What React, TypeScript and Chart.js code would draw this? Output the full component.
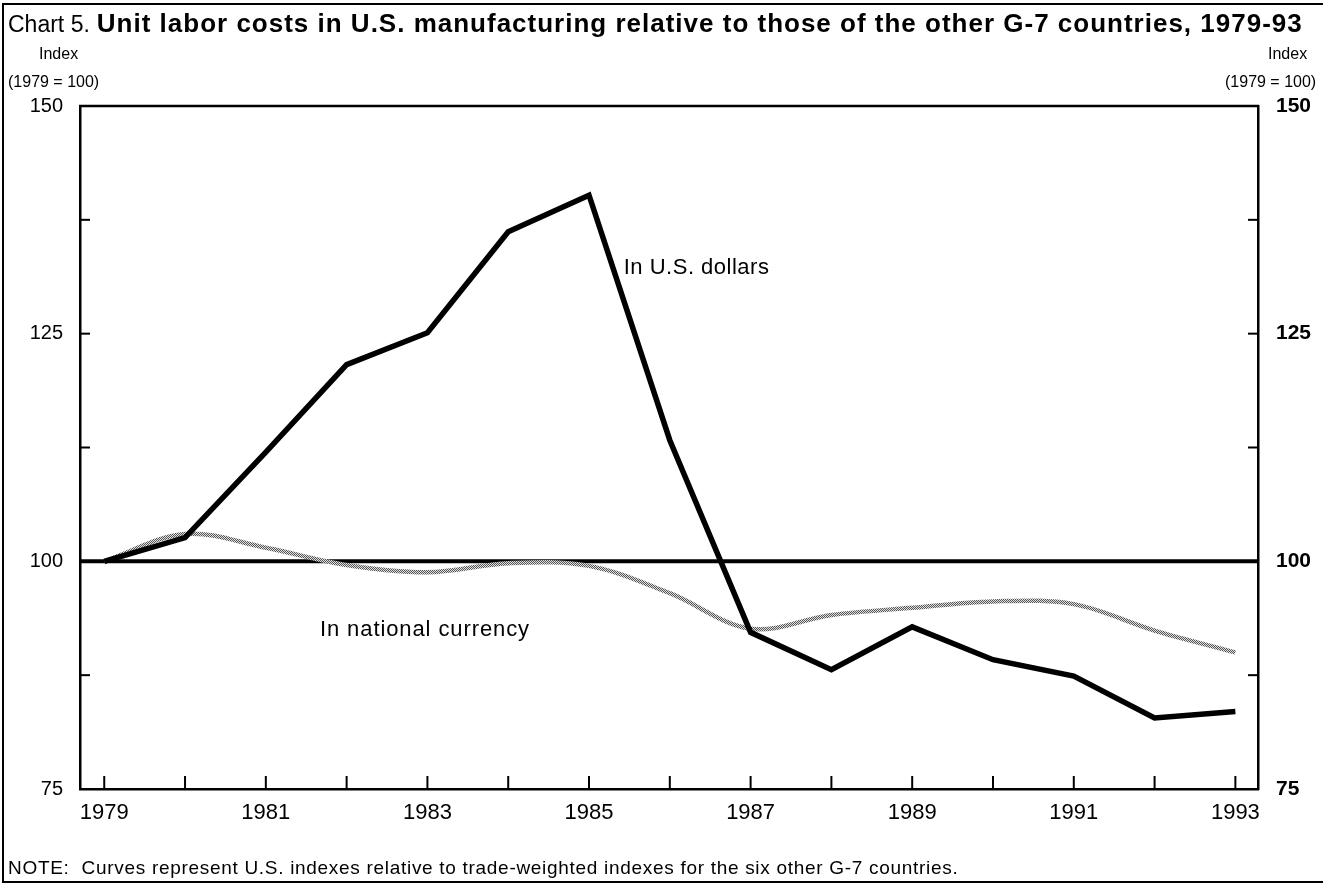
import React, { useEffect, useRef } from "react";
import { Chart, registerables } from "chart.js";

Chart.register(...registerables);

// ---- Data ----
const YEARS = [1979, 1980, 1981, 1982, 1983, 1984, 1985, 1986, 1987, 1988, 1989, 1990, 1991, 1992, 1993];
const US_DOLLARS = [100, 102.6, 112.0, 121.6, 125.1, 136.2, 140.2, 113.3, 92.2, 88.1, 92.8, 89.2, 87.4, 82.8, 83.5];
const NATIONAL_CURRENCY = [100, 103.0, 101.5, 99.6, 98.8, 99.8, 99.5, 96.5, 92.6, 94.1, 94.9, 95.6, 95.3, 92.4, 90.0];
const Y_TICKS = [75, 87.5, 100, 112.5, 125, 137.5, 150];
const Y_LABELS = [75, 100, 125, 150];
const X_LABELS = [1979, 1981, 1983, 1985, 1987, 1989, 1991, 1993];
const BASELINE = 100;

const TITLE_PREFIX = "Chart 5.";
const TITLE_MAIN = "Unit labor costs in U.S. manufacturing relative to those of the other G-7 countries, 1979-93";
const UNIT_TOP = "Index";
const UNIT_BOTTOM = "(1979 = 100)";
const NOTE = "NOTE:  Curves represent U.S. indexes relative to trade-weighted indexes for the six other G-7 countries.";

// Series annotations, anchored in data space
const LABEL_USD = { text: "In U.S. dollars", year: 1985.43, value: 132.2 };
const LABEL_NAT = { text: "In national currency", year: 1981.67, value: 92.5 };

const FONT = '"Liberation Sans", Arial, Helvetica, sans-serif';
const W = 1323;
const H = 887;

function makeStipple(): CanvasPattern | string {
  const c = document.createElement("canvas");
  c.width = 2;
  c.height = 2;
  const g = c.getContext("2d");
  if (!g) return "#999";
  g.fillStyle = "#e0e0e0";
  g.fillRect(0, 0, 2, 2);
  g.fillStyle = "#555";
  g.fillRect(0, 0, 1, 1);
  g.fillRect(1, 1, 1, 1);
  const p = g.createPattern(c, "repeat");
  return p || "#999";
}

const framePlugin = {
  id: "framePlugin",
  beforeDatasetsDraw(chart: any) {
    const { ctx, chartArea, scales } = chart;
    const { left, right, top, bottom } = chartArea;
    const line = (x1: number, y1: number, x2: number, y2: number) => {
      ctx.beginPath();
      ctx.moveTo(x1, y1);
      ctx.lineTo(x2, y2);
      ctx.stroke();
    };
    ctx.save();
    ctx.strokeStyle = "#000";
    ctx.lineCap = "butt";
    // top border of plot box
    ctx.lineWidth = 2.5;
    line(left - 1, top, right + 1, top);
    // inward ticks
    ctx.lineWidth = 2;
    Y_TICKS.forEach((v) => {
      const y = scales.y.getPixelForValue(v);
      line(left, y, left + 10, y);
      line(right - 10, y, right, y);
    });
    YEARS.forEach((v) => {
      const x = scales.x.getPixelForValue(v);
      line(x, bottom, x, bottom - 13);
    });
    // 1979 = 100 reference line
    ctx.lineWidth = 4;
    const yb = scales.y.getPixelForValue(BASELINE);
    line(left, yb, right, yb);
    ctx.restore();
  },
  afterDatasetsDraw(chart: any) {
    const { ctx, scales } = chart;
    ctx.save();
    ctx.fillStyle = "#000";
    ctx.font = `22px ${FONT}`;
    ctx.textAlign = "left";
    ctx.textBaseline = "middle";
    const anyCtx = ctx as any;
    [LABEL_USD, LABEL_NAT].forEach((l, i) => {
      anyCtx.letterSpacing = i === 0 ? "0.5px" : "0.9px";
      ctx.fillText(l.text, scales.x.getPixelForValue(l.year), scales.y.getPixelForValue(l.value));
    });
    anyCtx.letterSpacing = "0px";
    ctx.restore();
  },
};

export default function App() {
  const canvasRef = useRef<HTMLCanvasElement | null>(null);

  useEffect(() => {
    const canvas = canvasRef.current;
    if (!canvas) return;
    const stipple = makeStipple();
    const yTickCb = (v: any) => (Y_LABELS.includes(Number(v)) ? String(v) : "");
    const chart = new Chart(canvas, {
      type: "line",
      data: {
        datasets: [
          {
            label: "In U.S. dollars",
            data: YEARS.map((y, i) => ({ x: y, y: US_DOLLARS[i] })),
            borderColor: "#000",
            borderWidth: 5.5,
            pointRadius: 0,
            tension: 0,
            borderJoinStyle: "miter",
            order: 0,
          },
          {
            label: "In national currency",
            data: YEARS.map((y, i) => ({ x: y, y: NATIONAL_CURRENCY[i] })),
            borderColor: stipple as any,
            borderWidth: 4.5,
            pointRadius: 0,
            tension: 0.35,
            order: 1,
          },
        ],
      },
      options: {
        responsive: false,
        animation: false,
        events: [],
        layout: { padding: { top: 106, left: 0, right: 0, bottom: 0 } },
        plugins: {
          legend: { display: false },
          tooltip: { enabled: false },
          title: { display: false },
        },
        scales: {
          x: {
            type: "linear",
            position: "bottom",
            min: 1978.7,
            max: 1993.28,
            afterBuildTicks: (scale: any) => {
              scale.ticks = YEARS.map((v) => ({ value: v }));
            },
            afterFit: (scale: any) => {
              scale.height = H - 789;
            },
            grid: { display: true, drawOnChartArea: false, drawTicks: false },
            border: { display: true, color: "#000", width: 2.5 },
            ticks: {
              autoSkip: false,
              maxRotation: 0,
              padding: 11,
              color: "#000",
              font: { family: FONT, size: 22 },
              callback: (v: any) => (X_LABELS.includes(Number(v)) ? String(v) : ""),
            },
          },
          y: {
            type: "linear",
            position: "left",
            min: 75,
            max: 150,
            afterBuildTicks: (scale: any) => {
              scale.ticks = Y_TICKS.map((v) => ({ value: v }));
            },
            afterFit: (scale: any) => {
              scale.width = 80;
            },
            grid: { display: true, drawOnChartArea: false, drawTicks: false },
            border: { display: true, color: "#000", width: 2.5 },
            ticks: {
              padding: 17,
              color: "#000",
              font: { family: FONT, size: 20 },
              callback: yTickCb,
            },
          },
          yR: {
            type: "linear",
            position: "right",
            min: 75,
            max: 150,
            afterBuildTicks: (scale: any) => {
              scale.ticks = Y_TICKS.map((v) => ({ value: v }));
            },
            afterFit: (scale: any) => {
              scale.width = W - 1258;
            },
            grid: { display: true, drawOnChartArea: false, drawTicks: false },
            border: { display: true, color: "#000", width: 2.5 },
            ticks: {
              padding: 18,
              color: "#000",
              font: { family: FONT, size: 21, weight: "bold" },
              callback: yTickCb,
            },
          },
        },
      },
      plugins: [framePlugin],
    } as any);
    return () => chart.destroy();
  }, []);

  const abs = (extra: React.CSSProperties): React.CSSProperties => ({
    position: "absolute",
    whiteSpace: "pre",
    fontFamily: FONT,
    color: "#000",
    lineHeight: 1,
    ...extra,
  });

  return (
    <div
      style={{
        position: "fixed",
        left: 0,
        top: 0,
        width: W,
        height: H,
        background: "#fff",
        overflow: "hidden",
      }}
    >
      <canvas ref={canvasRef} width={W} height={H} style={{ position: "absolute", left: 0, top: 0, width: W, height: H }} />
      <div
        style={{
          position: "absolute",
          left: 2,
          top: 3,
          width: W + 10,
          height: 880,
          borderLeft: "2.5px solid #000",
          borderTop: "2.5px solid #000",
          borderBottom: "2.5px solid #000",
          boxSizing: "border-box",
          pointerEvents: "none",
        }}
      />
      <div style={abs({ left: 8, top: 10, fontSize: 23 })}>
        <span>{TITLE_PREFIX}</span>
        <span style={{ fontWeight: "bold", marginLeft: 7, fontSize: 26, letterSpacing: 1 }}>{TITLE_MAIN}</span>
      </div>
      <div style={abs({ left: 39, top: 46, fontSize: 16 })}>{UNIT_TOP}</div>
      <div style={abs({ left: 8, top: 74, fontSize: 16 })}>{UNIT_BOTTOM}</div>
      <div style={abs({ left: 1268, top: 46, fontSize: 16 })}>{UNIT_TOP}</div>
      <div style={abs({ left: 1225, top: 74, fontSize: 16 })}>{UNIT_BOTTOM}</div>
      <div style={abs({ left: 8, top: 858, fontSize: 19, letterSpacing: 0.7 })}>{NOTE}</div>
    </div>
  );
}
